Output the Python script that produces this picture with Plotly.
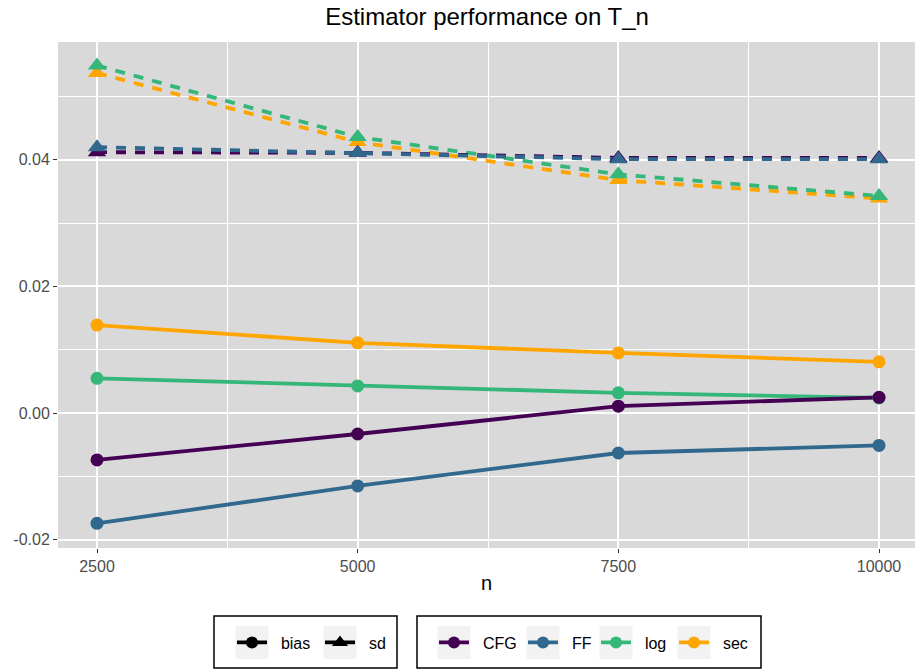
import plotly.graph_objects as go

n_values = [2500, 5000, 7500, 10000]
methods = ["CFG", "FF", "log", "sec"]
draw_order = ["sec", "log", "CFG", "FF"]
colors = {"CFG": "#440154", "FF": "#31688E", "log": "#35B779", "sec": "#FFA500"}

bias = {
    "CFG": [-0.0074, -0.0033, 0.0011, 0.0025],
    "FF": [-0.0174, -0.0115, -0.0063, -0.0051],
    "log": [0.0055, 0.0043, 0.0032, 0.0024],
    "sec": [0.0139, 0.0111, 0.0095, 0.0081],
}
sd = {
    "CFG": [0.0412, 0.0411, 0.0403, 0.0403],
    "FF": [0.0420, 0.0411, 0.0401, 0.0401],
    "log": [0.0549, 0.0436, 0.0377, 0.0343],
    "sec": [0.0537, 0.0428, 0.0368, 0.0339],
}
types = ["bias", "sd"]

y_ticks = [-0.02, 0.0, 0.02, 0.04]
y_tick_labels = ["-0.02", "0.00", "0.02", "0.04"]
x_ticks = [2500, 5000, 7500, 10000]
x_tick_labels = ["2500", "5000", "7500", "10000"]

FONT = "Liberation Sans, Arial, sans-serif"
W, H = 916, 670
ML, MR, MT, MB = 58, 1, 42, 122
PW, PH = W - ML - MR, H - MT - MB


def px_x(p):
    return (p - ML) / PW


def px_y(p):
    return (H - MB - p) / PH


fig = go.Figure()

for m in draw_order:
    fig.add_trace(go.Scatter(x=n_values, y=sd[m], mode="lines",
                             line=dict(color=colors[m], width=3.8, dash="10px,9px"),
                             showlegend=False, hoverinfo="skip"))
for m in draw_order:
    fig.add_trace(go.Scatter(x=n_values, y=bias[m], mode="lines",
                             line=dict(color=colors[m], width=3.8),
                             showlegend=False, hoverinfo="skip"))
for m in draw_order:
    fig.add_trace(go.Scatter(x=n_values, y=sd[m], mode="markers",
                             marker=dict(color=colors[m], size=16, symbol="triangle-up",
                                         line=dict(width=0)),
                             showlegend=False))
    fig.add_trace(go.Scatter(x=n_values, y=bias[m], mode="markers",
                             marker=dict(color=colors[m], size=13, symbol="circle",
                                         line=dict(width=0)),
                             showlegend=False))

# legend entries: one legend per key, so each can sit on its ggplot-style key box
legend_items = [("bias", "black", "circle", 12), ("sd", "black", "triangle-up", 14)] + \
               [(m, colors[m], "circle", 12) for m in methods]
key_centers = [252, 340, 454, 543, 616, 694]

layout_legends = {}
for i, ((name, col, sym, sz), kc) in enumerate(zip(legend_items, key_centers)):
    lname = "legend" if i == 0 else f"legend{i + 1}"
    fig.add_trace(go.Scatter(x=[None], y=[None], mode="lines+markers",
                             name="\u00a0\u00a0" + name,
                             line=dict(color=col, width=3.8),
                             marker=dict(color=col, size=sz, symbol=sym),
                             legend=lname))
    layout_legends[lname] = dict(orientation="h", yanchor="middle", y=px_y(642.5),
                                 xanchor="left", x=px_x(kc - 20),
                                 borderwidth=0, bgcolor="rgba(0,0,0,0)",
                                 font=dict(family=FONT, size=16, color="black"),
                                 itemwidth=30)

shapes = []
for (x0, x1) in [(214, 397), (417, 761)]:
    shapes.append(dict(type="rect", xref="paper", yref="paper",
                       x0=px_x(x0), x1=px_x(x1), y0=px_y(668), y1=px_y(616),
                       line=dict(color="black", width=1.5), fillcolor="white", layer="below"))
for kc in key_centers:
    shapes.append(dict(type="rect", xref="paper", yref="paper",
                       x0=px_x(kc - 16.5), x1=px_x(kc + 16.5), y0=px_y(659), y1=px_y(626),
                       line=dict(width=0), fillcolor="#F2F2F2", layer="below"))

fig.update_layout(
    width=W, height=H,
    paper_bgcolor="white", plot_bgcolor="#D9D9D9",
    margin=dict(l=ML, r=MR, t=MT, b=MB, autoexpand=False),
    title=dict(text="Estimator performance on T_n", x=px_x(487), xanchor="center",
               xref="paper", y=1 - 17 / H, yanchor="middle",
               font=dict(family=FONT, size=24, color="black"), automargin=False),
    font=dict(family=FONT),
    shapes=shapes,
    xaxis=dict(range=[2126, 10345], tickvals=x_ticks, ticktext=x_tick_labels,
               showgrid=True, gridcolor="white", gridwidth=1.6,
               minor=dict(tickvals=[3750, 6250, 8750], showgrid=True, gridcolor="white", gridwidth=0.8),
               ticks="outside", ticklen=4, tickcolor="#333333", tickwidth=1.2,
               tickfont=dict(family=FONT, size=16, color="#4D4D4D"),
               title=dict(text="n", font=dict(family=FONT, size=20, color="black"), standoff=1),
               zeroline=False, showline=False, automargin=False),
    yaxis=dict(range=[-0.0213, 0.0586], tickvals=y_ticks, ticktext=y_tick_labels,
               showgrid=True, gridcolor="white", gridwidth=1.6,
               minor=dict(tickvals=[-0.01, 0.01, 0.03, 0.05], showgrid=True, gridcolor="white", gridwidth=0.8),
               ticks="outside", ticklen=4, tickcolor="#333333", tickwidth=1.2,
               tickfont=dict(family=FONT, size=16, color="#4D4D4D"),
               zeroline=False, showline=False, automargin=False),
    **layout_legends,
)

fig.write_html("out.html", config={"displayModeBar": False},
               post_script="document.body.style.margin='0';document.body.style.overflow='hidden';")
